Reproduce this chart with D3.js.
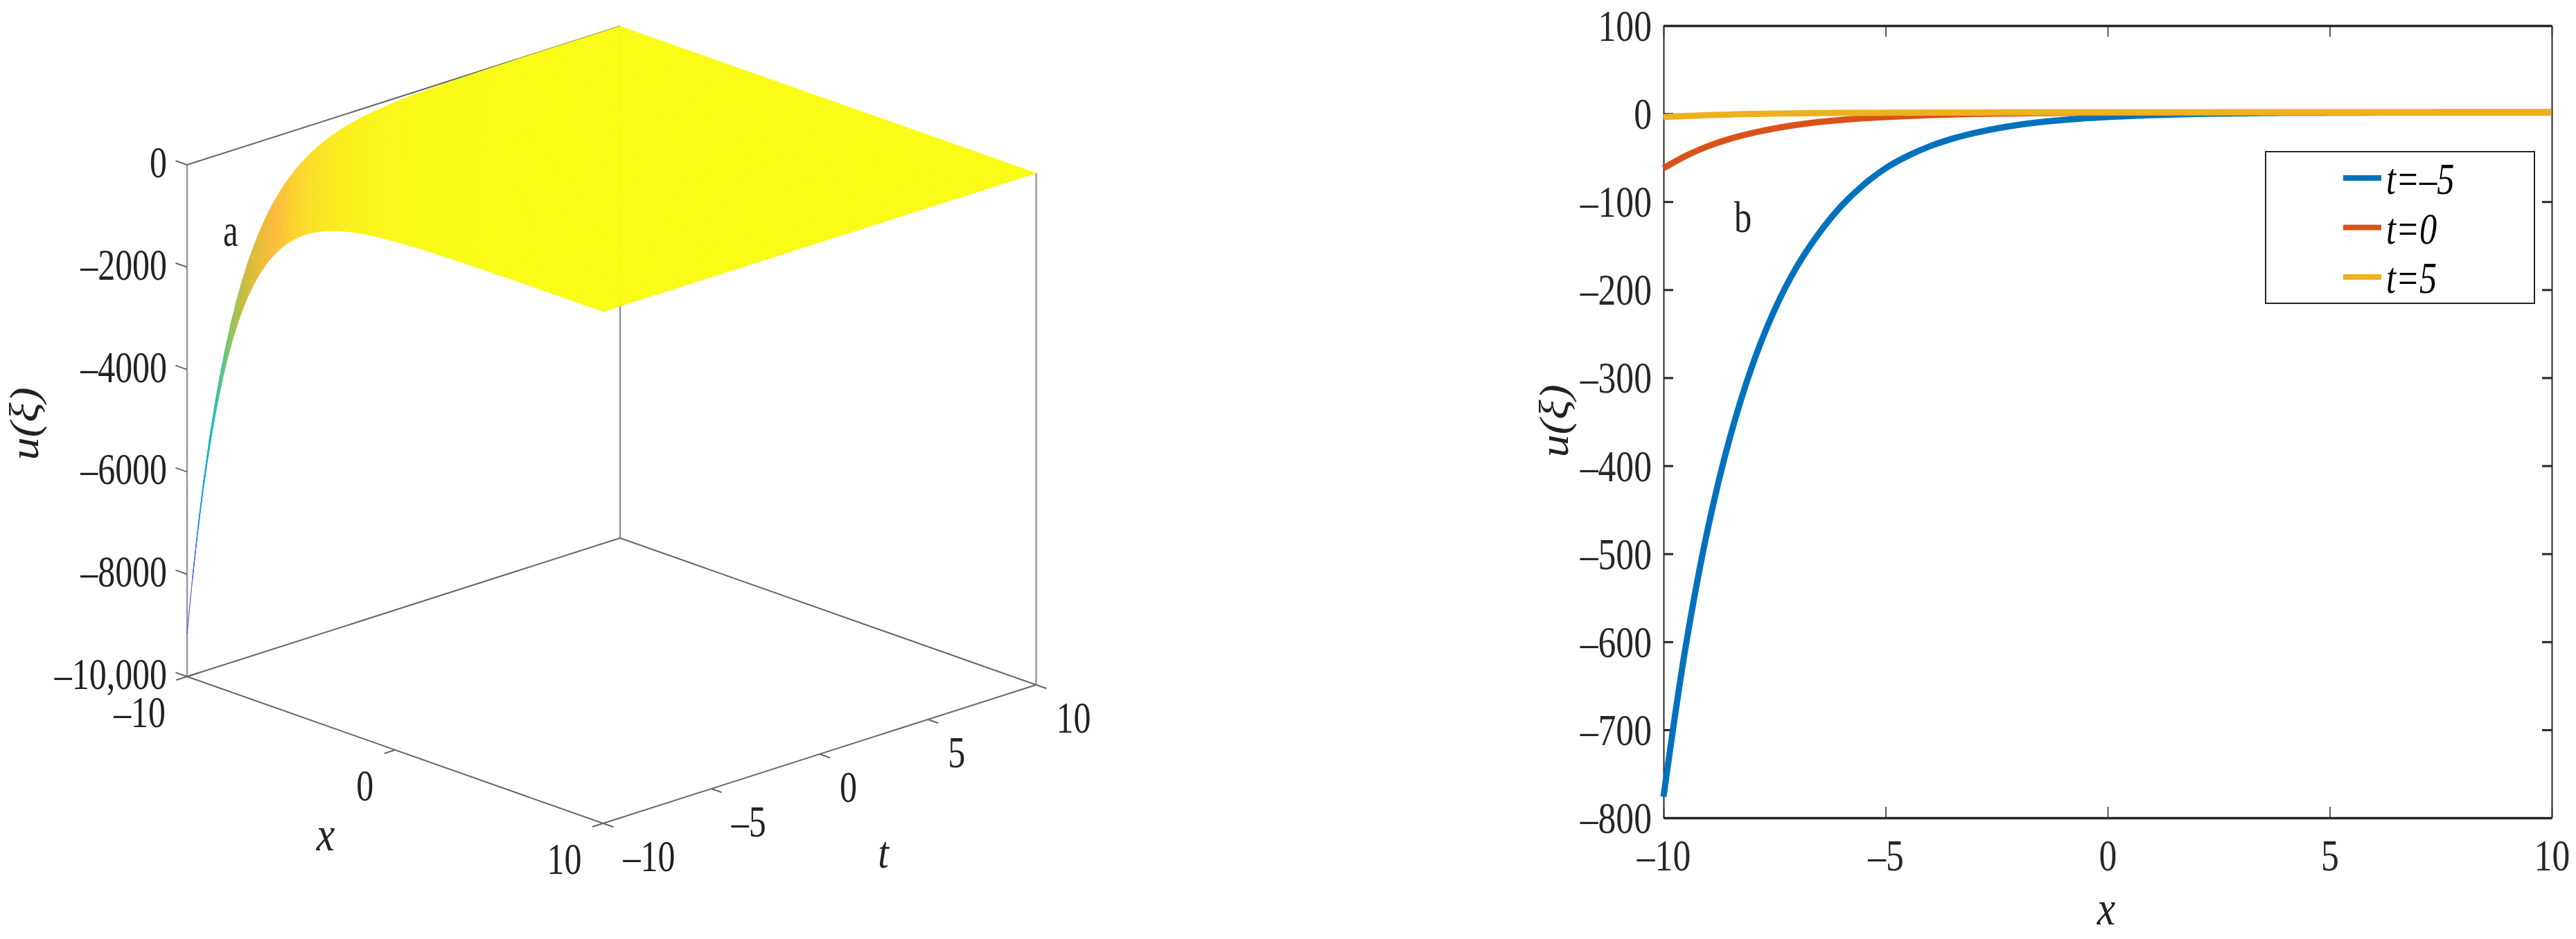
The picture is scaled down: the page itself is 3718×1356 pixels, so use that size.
<!DOCTYPE html>
<html><head><meta charset="utf-8">
<style>html,body{margin:0;padding:0;background:#fff}svg{display:block}text{font-family:"Liberation Serif",serif}</style>
<script src="https://cdn.jsdelivr.net/npm/d3@7/dist/d3.min.js"></script>
</head><body><svg id="c" width="3718" height="1356"></svg>
<script>
// ---------- panel b data ----------
const lineX = [-10,-9.5,-9,-8.5,-8,-7.5,-7,-6.5,-6,-5.5,-5,-4.5,-4,-3.5,-3,-2.5,-2,-1.5,-1,-0.5,0,0.5,1,1.5,2,2.5,3,3.5,4,4.5,5,5.5,6,6.5,7,7.5,8,8.5,9,9.5,10];
const tMinus5 = [-776,-605,-471,-367,-286,-223,-174,-136,-105,-81,-62,-48,-37,-28.5,-22,-16.8,-12.7,-9.6,-7.2,-5.3,-3.8,-2.6,-1.7,-1,-0.4,0,0.3,0.6,0.8,0.9,1,1.1,1.2,1.3,1.3,1.4,1.4,1.4,1.4,1.5,1.5];
const t0 = [-62,-48,-37,-28.5,-22,-16.8,-12.7,-9.6,-7.2,-5.3,-3.8,-2.6,-1.7,-1,-0.4,0,0.3,0.6,0.8,0.9,1,1.1,1.2,1.3,1.3,1.4,1.4,1.4,1.4,1.5,1.5,1.5,1.5,1.5,1.5,1.5,1.5,1.5,1.5,1.5,1.5];
const t5 = [-3.8,-2.6,-1.7,-1,-0.4,0,0.3,0.6,0.8,0.9,1,1.1,1.2,1.3,1.3,1.4,1.4,1.4,1.4,1.5,1.5,1.5,1.5,1.5,1.5,1.5,1.5,1.5,1.5,1.5,1.5,1.5,1.5,1.5,1.5,1.5,1.5,1.5,1.5,1.5,1.5];
const seriesNames = ["t=–5","t=0","t=5"];
const seriesColors = ["#0072bd","#d95319","#edb120"];
const bXTicks = [-10,-5,0,5,10];
const bYTicks = [100,0,-100,-200,-300,-400,-500,-600,-700,-800];
// ---------- panel a data: u read along the surface's ridge, one value per 0.25 step of x+t, from x+t = -20 ----------
const surfaceU = [-9160,-8096,-7155,-6324,-5589,-4940,-4366,-3859,-3410,-3014,-2664,-2354,-2081,-1839,-1625,-1436,-1270,-1122,-992,-877,-775,-684,-604,-533,-470,-415,-366,-323,-285,-252,-222,-196,-173,-153,-135,-119,-105,-93,-82,-72,-64,-56,-50,-44,-39,-34,-30,-26.5,-23,-20.6,-18,-16,-14,-12.5,-11,-9.7,-8.6,-7.6,-6.7,-5.9,-5.2,0];
const aZTicks = [0,-2000,-4000,-6000,-8000,-10000];
const aZLabels = ["0","–2000","–4000","–6000","–8000","–10,000"];
const aXTicks = [-10,0,10];
const aTTicks = [-10,-5,0,5,10];
const colorStops = [0,.125,.25,.375,.5,.625,.75,.875,1];
const colorHex = ["#3e26a8","#4f52f2","#2a8ef0","#0fb4d3","#2cc4a0","#84c866","#d1bb3a","#fdbb3a","#f9fb15"];

const svg = d3.select("#c");
const fmt = v => String(v).replace("-","–");
function label(g,text,x,y,size,sx,anchor,italic,rot){
  return g.append("text").text(text)
   .attr("transform",`translate(${x},${y})`+(rot?` rotate(${rot})`:"")+` scale(${sx},1)`)
   .attr("font-size",size).attr("text-anchor",anchor||"start")
   .attr("font-style",italic?"italic":"normal").attr("fill","#222");
}

// ========== panel a ==========
const A = svg.append("g");
const xPx = d3.scaleLinear([-10,10],[270,870.5]), xPy = d3.scaleLinear([-10,10],[0,212]);
const tPx = d3.scaleLinear([-10,10],[0,625]), tPy = d3.scaleLinear([-10,10],[0,-200]);
const zPy = d3.scaleLinear([-10000,0],[977,238]);
const P = (x,t,z)=>[xPx(x)+tPx(t), zPy(z)+xPy(x)+tPy(t)];
const seg = (a,b,col,w)=>A.append("line").attr("x1",a[0]).attr("y1",a[1]).attr("x2",b[0]).attr("y2",b[1]).attr("stroke",col).attr("stroke-width",w);
const Z0=0,ZB=-10000;
// box
seg(P(-10,-10,ZB),P(-10,-10,Z0),"#999",2.5);
seg(P(-10,10,ZB),P(-10,10,Z0),"#888",2);
seg(P(10,10,ZB),P(10,10,Z0),"#999",2.5);
seg(P(-10,-10,Z0),P(-10,10,Z0),"#666",2);
seg(P(-10,-10,ZB),P(-10,10,ZB),"#666",2);
seg(P(-10,10,ZB),P(10,10,ZB),"#666",2);
seg(P(-10,-10,ZB),P(10,-10,ZB),"#666",2);
seg(P(10,-10,ZB),P(10,10,ZB),"#666",2);
// ticks
aZTicks.forEach((z,i)=>{
  const p=P(-10,-10,z); seg(p,P(-10.55,-10,z),"#666",2);
  const q=P(-10,-10,z); label(A,aZLabels[i],q[0]-29,q[1]+18,64,.78,"end");
});
aXTicks.forEach(x=>{
  const p=P(x,-10,ZB); seg(p,P(x,-10.5,ZB),"#666",2);
  label(A,fmt(x),p[0]-31,p[1]+73,64,.78,"end");
});
aTTicks.forEach(t=>{
  const p=P(10,t,ZB); seg(p,P(10.5,t,ZB),"#666",2);
  label(A,fmt(t),p[0]+29,p[1]+69,64,.78,"start");
});
seg(P(-10,-10,ZB),P(-10,-9.5,ZB),"#666",2);
// surface
const color = d3.scaleLinear(colorStops.map(s=>-9160+s*9160),colorHex).clamp(true);
const gridN = 80, step = 0.25;
const uAt = k => surfaceU[Math.min(k,surfaceU.length-1)];
const cells=[];
for(let j=gridN-1;j>=0;j--) for(let i=0;i<gridN;i++) cells.push([i,j]);
const gridVal = n => -10+n*step;
A.append("g").selectAll("path").data(cells).join("path")
 .attr("d",([i,j])=>"M"+[[i,j],[i+1,j],[i+1,j+1],[i,j+1]].map(([a,b])=>P(gridVal(a),gridVal(b),uAt(a+b)).join(",")).join("L")+"Z")
 .attr("fill",([i,j])=>color((uAt(i+j)+uAt(i+j+2))/2))
 .attr("stroke",([i,j])=>color((uAt(i+j)+uAt(i+j+2))/2)).attr("stroke-width",.7);
label(A,"a",322,355,65,.75,"start");
label(A,"x",470,1228,70,.85,"middle",true);
label(A,"t",1275,1253,66,.85,"middle",true);
label(A,"u(ξ)",55,612,60,1.1,"middle",true,-90);

// ========== panel b ==========
const B = svg.append("g");
const x = d3.scaleLinear([-10,10],[2401,3683]);
const y = d3.scaleLinear([-800,100],[1181,37]);
const frame = "#262626";
function styleAxis(g,domW,tickW){
  g.select(".domain").attr("stroke",frame).attr("stroke-width",domW);
  g.selectAll(".tick line").attr("stroke",frame).attr("stroke-width",tickW);
}
const gB = B.append("g").attr("transform",`translate(0,${y(-800)})`)
 .call(d3.axisBottom(x).tickValues(bXTicks).tickSizeInner(-16).tickSizeOuter(0).tickFormat(fmt));
styleAxis(gB,3.5,1.5);
gB.selectAll(".tick text").attr("y",0).attr("dy",0).attr("transform","translate(0,76) scale(.82,1)")
 .attr("font-size",63).attr("font-family","Liberation Serif").attr("fill",frame).attr("text-anchor","middle");
const gT = B.append("g").attr("transform",`translate(0,${y(100)})`)
 .call(d3.axisTop(x).tickValues(bXTicks).tickSizeInner(-16).tickSizeOuter(0).tickFormat(""));
styleAxis(gT,3.5,1.5);
const gL = B.append("g").attr("transform",`translate(${x(-10)},0)`)
 .call(d3.axisLeft(y).tickValues(bYTicks).tickSizeInner(-14).tickSizeOuter(0).tickFormat(fmt));
styleAxis(gL,2,3);
gL.selectAll(".tick text").attr("x",0).attr("dy",0).attr("transform","translate(-17,21.5) scale(.82,1)")
 .attr("font-size",63).attr("font-family","Liberation Serif").attr("fill",frame).attr("text-anchor","end");
const gR = B.append("g").attr("transform",`translate(${x(10)},0)`)
 .call(d3.axisRight(y).tickValues(bYTicks).tickSizeInner(-14).tickSizeOuter(0).tickFormat(""));
styleAxis(gR,2,3);
const line = d3.line().x((d,i)=>x(lineX[i])).y(d=>y(d)).curve(d3.curveCatmullRom);
[tMinus5,t0,t5].forEach((s,i)=>B.append("path").attr("d",line(s)).attr("fill","none")
 .attr("stroke",seriesColors[i]).attr("stroke-width",9));
label(B,"b",2503,335,63,.8,"start");
label(B,"x",3040,1335,70,.85,"middle",true);
label(B,"u(ξ)",2263,608,60,1.1,"middle",true,-90);
// legend
const lg = B.append("g");
lg.append("rect").attr("x",3270).attr("y",219).attr("width",388).attr("height",219)
 .attr("fill","#fff").attr("stroke",frame).attr("stroke-width",2);
const legendY = d3.scalePoint(seriesNames,[257,400]);
seriesNames.forEach((n,i)=>{
  const ly=legendY(n);
  lg.append("line").attr("x1",3382).attr("x2",3437).attr("y1",ly).attr("y2",ly)
    .attr("stroke",seriesColors[i]).attr("stroke-width",8);
  label(lg,n,3444,ly+23,63,.8,"start",true).attr("fill","#000");
});
</script></body></html>
